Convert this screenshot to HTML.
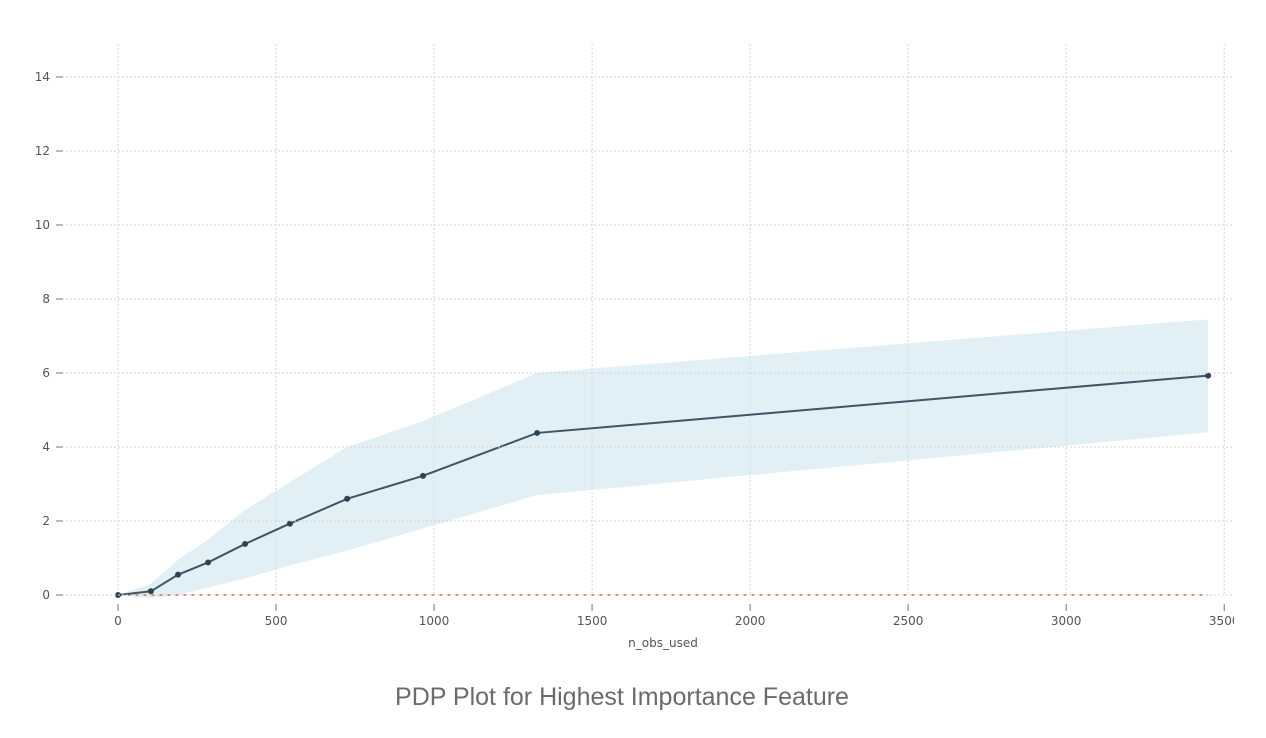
<!DOCTYPE html>
<html><head><meta charset="utf-8"><style>
body{margin:0;background:#fff;width:1266px;height:738px;overflow:hidden;font-family:"DejaVu Sans","Liberation Sans",sans-serif}
svg text{fill:#555;font-size:12px}
.cap{position:absolute;left:0;top:683px;width:1244px;text-align:center;font-family:"Liberation Sans",sans-serif;font-size:25px;color:#6b6b6b}
</style></head><body>
<svg id="chart" width="1266" height="738" style="position:absolute;left:0;top:0"></svg>
<div class="cap">PDP Plot for Highest Importance Feature</div>
<script>
const xs=[0,104,190,285,402,544,725,965,1326,3449];
const ys=[0,0.1,0.55,0.88,1.38,1.93,2.6,3.22,4.38,5.93];
const upper=[0,0.3,0.95,1.5,2.3,3.05,4.0,4.7,6.0,7.45];
const lower=[0,-0.08,0.0,0.2,0.45,0.8,1.2,1.8,2.7,4.4];
const xTicks=[0,500,1000,1500,2000,2500,3000,3500];
const yTicks=[0,2,4,6,8,10,12,14];
const X=v=>118+v*0.31606, Y=v=>595-v*37;
const svg=document.getElementById('chart');const NS='http://www.w3.org/2000/svg';
function mk(t,a,p){const e=document.createElementNS(NS,t);for(const k in a)e.setAttribute(k,a[k]);(p||svg).appendChild(e);return e;}
const clip=mk('clipPath',{id:'c'});mk('rect',{x:60,y:30,width:1174,height:600},clip);
const g=mk('g',{'clip-path':'url(#c)'});
xTicks.forEach(t=>{const l=mk('line',{x1:X(t),x2:X(t),y1:44,y2:596,stroke:'#d4d4d4','stroke-dasharray':'2,2'},g);

mk('line',{x1:X(t),x2:X(t),y1:604,y2:611,stroke:'#777'},g);
const tx=mk('text',{x:X(t),y:625,'text-anchor':'middle'},g);tx.textContent=t;
});
yTicks.forEach(t=>{const l=mk('line',{x1:66,x2:1234,y1:Y(t),y2:Y(t),stroke:'#d4d4d4','stroke-dasharray':'2,2'});

mk('line',{x1:56,x2:63,y1:Y(t),y2:Y(t),stroke:'#777'});
const tx=mk('text',{x:50,y:Y(t)+4,'text-anchor':'end'});tx.textContent=t;
});
let d='M'+xs.map((x,i)=>X(x)+','+Y(upper[i])).join('L');
for(let i=xs.length-1;i>=0;i--)d+='L'+X(xs[i])+','+Y(lower[i]);
const band=mk('path',{d:d+'Z',fill:'#d3e6ee',opacity:0.65},g);

const zl=mk('line',{x1:X(0),x2:X(xs[xs.length-1]),y1:Y(0),y2:Y(0),stroke:'#d6502f','stroke-dasharray':'5,3','stroke-width':1.3},g);

const pl=mk('polyline',{points:xs.map((x,i)=>X(x)+','+Y(ys[i])).join(' '),fill:'none',stroke:'#3e5563','stroke-width':2},g);

xs.forEach((x,i)=>{const c=mk('circle',{cx:X(x),cy:Y(ys[i]),r:3,fill:'#2f4452'},g);
});
const xl=mk('text',{x:663,y:647,'text-anchor':'middle','font-size':'13'});xl.textContent='n_obs_used';

</script>
</body></html>
